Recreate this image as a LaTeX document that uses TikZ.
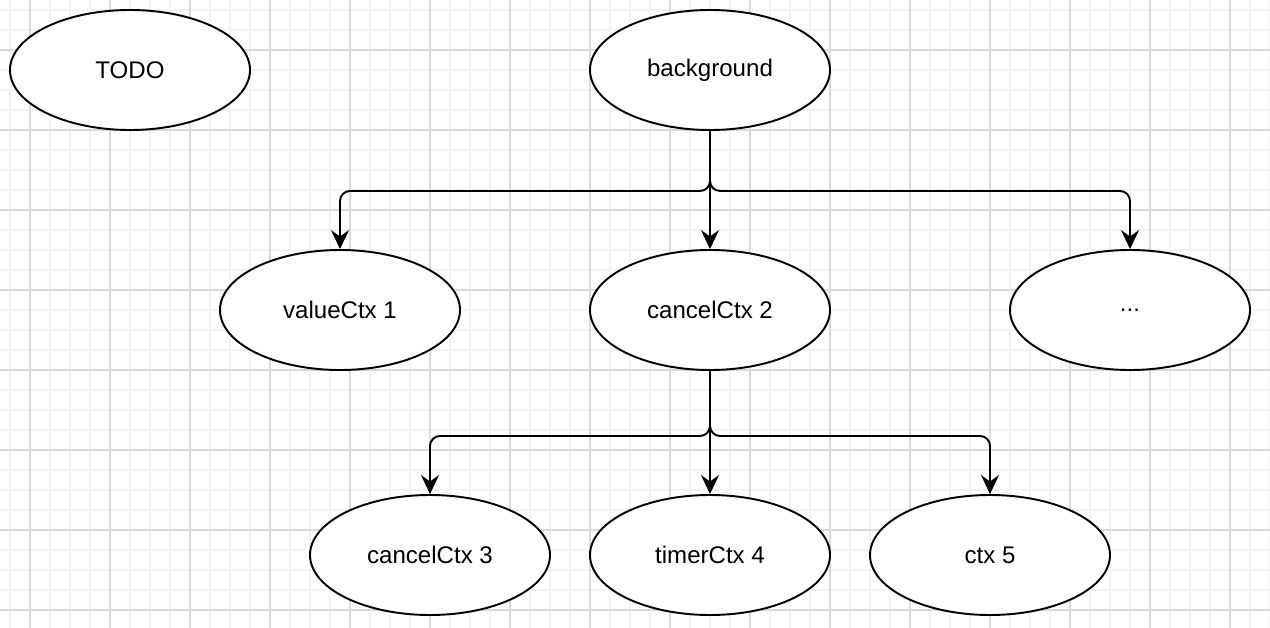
\documentclass[tikz,border=0pt]{standalone}
\usepackage{fontspec}
\setmainfont{Liberation Sans}
\usepackage{tikz}
\usetikzlibrary{arrows.meta,shapes.geometric,positioning}
\definecolor{gridminor}{RGB}{243,243,243}
\definecolor{gridmajor}{RGB}{218,218,218}
\tikzset{%
  >={Stealth[width=3.6mm,length=3.8mm,inset=1.3mm]},
            base/.style = {ellipse, draw=black, line width=1.1pt, fill=white,
                           minimum width=4.8cm, minimum height=2.4cm, inner sep=0pt,
                           text centered, font=\fontsize{13.7}{16}\selectfont},
  box0/.style = {base, yshift=0pt},
  conn/.style = {->, line width=1.1pt, rounded corners=0.2cm},
  minor/.style = {gridminor, line width=0.9pt},
  major/.style = {gridmajor, line width=0.9pt},
}
\begin{document}
\begin{tikzpicture}[node distance=4.8cm, align=center]

  % page and grid
  \useasboundingbox (0,0) rectangle (25.4,-12.56);
  \fill[white] (0,0) rectangle (25.4,-12.56);
  \foreach \i in {0,...,63} \draw[minor] ({0.2+0.4*\i},0) -- ++(0,-12.56);
  \foreach \i in {0,...,31} \draw[minor] (0,{-0.2-0.4*\i}) -- ++(25.4,0);
  \foreach \i in {0,...,15} \draw[major] ({0.6+1.6*\i},0) -- ++(0,-12.56);
  \foreach \i in {0,...,7}  \draw[major] (0,{-1.0-1.6*\i}) -- ++(25.4,0);

  \node (onBg)      [box0] at (14.2,-1.4)                     {background};
  \node (onTodo)    [box0, left of=onBg,      xshift=-6.8cm]  {TODO};
  \node (onCancelA) [box0, below of=onBg                   ]  {cancelCtx 2};
  \node (onValue)   [box0, below of=onBg,     xshift=-7.4cm]  {valueCtx 1};
  \node (onMore)    [box0, below of=onBg,     xshift= 8.4cm]  {...};
  \node (onTimer)   [box0, below of=onCancelA, yshift=-0.1cm]  {timerCtx 4};
  \node (onCancelB) [box0, left of=onTimer,   xshift=-0.8cm]  {cancelCtx 3};
  \node (onCtx)     [box0, right of=onTimer,  xshift= 0.8cm]  {ctx 5};

  \draw[conn] (onBg.south)      -- ++(0,-1.2) -| (onValue.north);
  \draw[conn] (onBg.south)      -- ++(0,-1.2) -| (onMore.north);
  \draw[conn] (onBg.south)      -- (onCancelA.north);
  \draw[conn] (onCancelA.south) -- ++(0,-1.3) -| (onCancelB.north);
  \draw[conn] (onCancelA.south) -- ++(0,-1.3) -| (onCtx.north);
  \draw[conn] (onCancelA.south) -- (onTimer.north);
\end{tikzpicture}
\end{document}
